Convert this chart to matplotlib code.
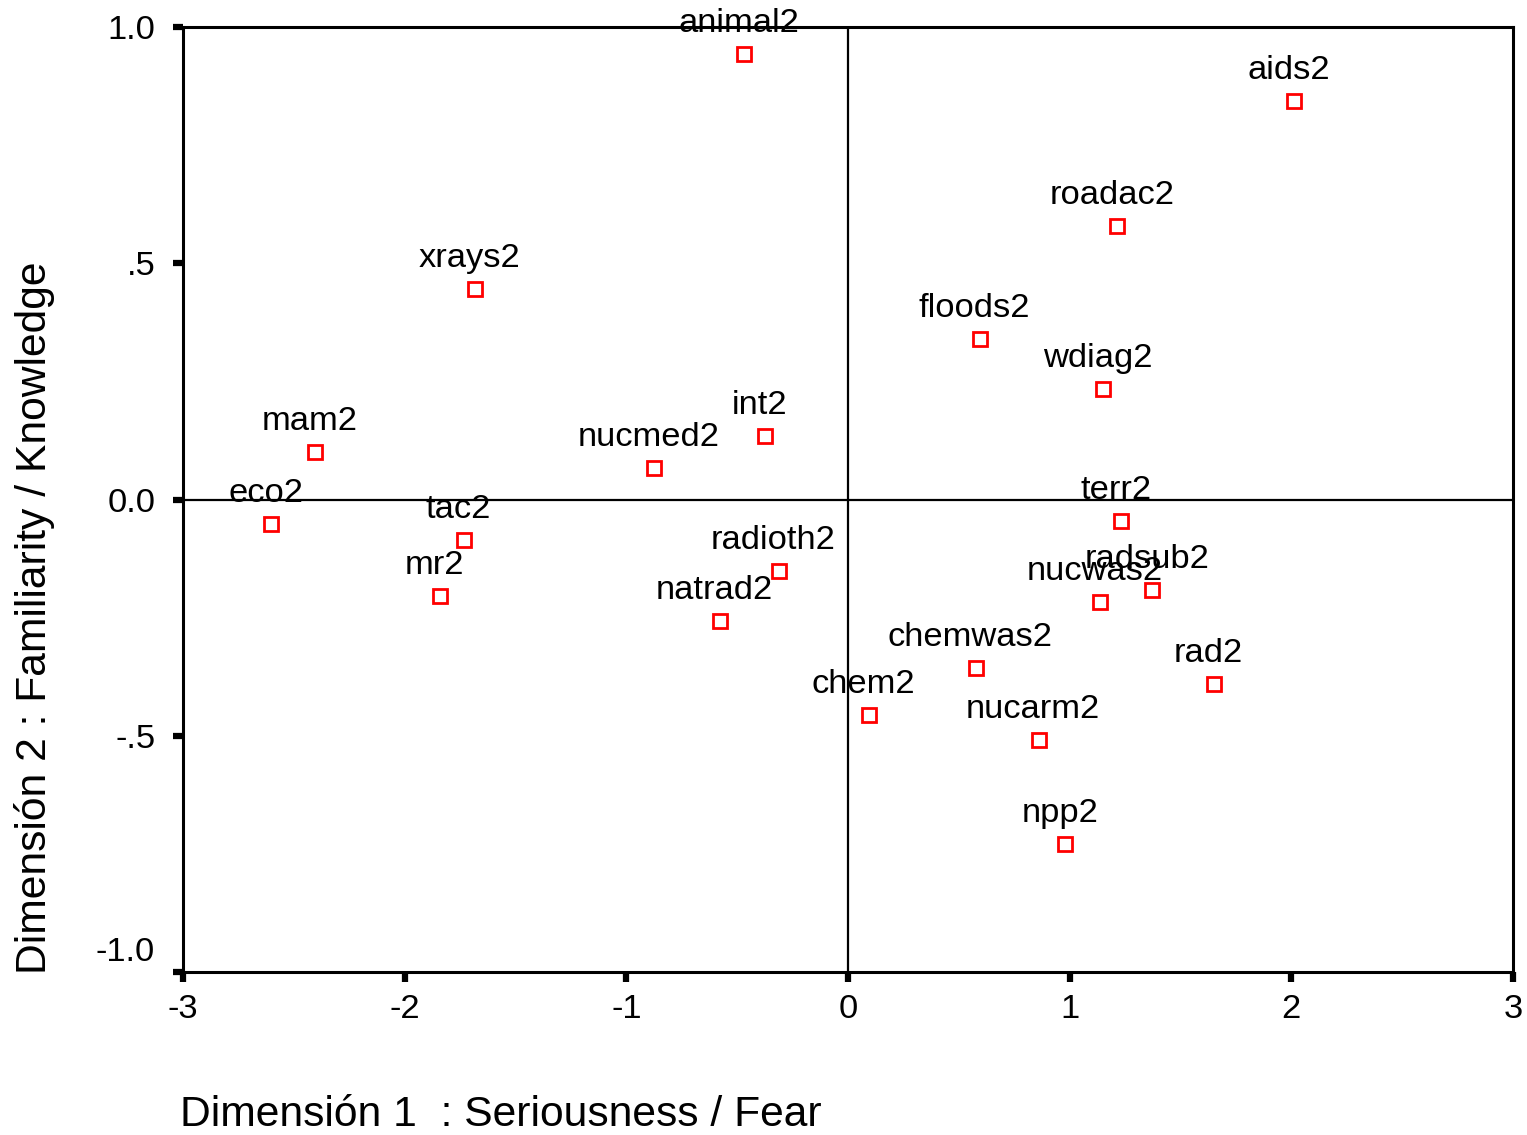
import matplotlib.pyplot as plt

plt.rcParams['font.family'] = ['Liberation Sans', 'DejaVu Sans']

# object scores
names = ['animal2', 'aids2', 'roadac2', 'xrays2', 'floods2', 'wdiag2', 'int2',
         'nucmed2', 'mam2', 'eco2', 'tac2', 'mr2', 'terr2', 'radioth2', 'radsub2',
         'nucwas2', 'natrad2', 'chemwas2', 'rad2', 'chem2', 'nucarm2', 'npp2']
dim1 = [-0.468, 2.012, 1.215, -1.683, 0.594, 1.152, -0.374,
        -0.873, -2.403, -2.601, -1.733, -1.841, 1.233, -0.311, 1.373,
        1.139, -0.576, 0.576, 1.652, 0.095, 0.860, 0.981]
dim2 = [0.943, 0.843, 0.579, 0.446, 0.340, 0.234, 0.134,
        0.067, 0.101, -0.052, -0.086, -0.204, -0.046, -0.151, -0.192,
        -0.217, -0.257, -0.357, -0.390, -0.456, -0.509, -0.729]

xticks = [-3, -2, -1, 0, 1, 2, 3]
yticks = [-1.0, -0.5, 0.0, 0.5, 1.0]
ytick_labels = ['', '-.5', '0.0', '.5', '1.0']

fig = plt.figure(figsize=(15.27, 11.35), dpi=100)
ax = fig.add_axes([0.1198, 0.1436, 0.8710, 0.8326])

ax.axhline(0, color='black', lw=1.6, zorder=1)
ax.axvline(0, color='black', lw=1.6, zorder=1)

ax.plot(dim1, dim2, ls='none', marker='s', ms=9.5, mfc='white', mec='red',
        mew=2.0, zorder=3)
for n, x, y in zip(names, dim1, dim2):
    ax.annotate(n, (x, y), xytext=(-4, 15.8), textcoords='offset points',
                ha='center', va='baseline', fontsize=24.8, zorder=4)

ax.set_xlim(-3, 3)
ax.set_ylim(-1, 1)
ax.set_xticks(xticks)
ax.set_xticklabels([str(t) for t in xticks])
ax.set_yticks(yticks)
ax.set_yticklabels(ytick_labels)
ax.tick_params(axis='both', direction='out', length=7, width=4.5,
               labelsize=24.8, color='black')
ax.tick_params(axis='y', pad=13)
ax.tick_params(axis='x', pad=9)
ax.annotate('-1.0', xy=(0, -1.0), xycoords=ax.get_yaxis_transform(),
            xytext=(-20, 13.7), textcoords='offset points',
            ha='right', va='center', fontsize=24.8)

for s in ax.spines.values():
    s.set_linewidth(2.2)

fig.text(180 / 1527, 1 - 1115 / 1135, 'Dimensión 1  : Seriousness / Fear',
         ha='left', va='center', fontsize=30.7)
fig.text(35 / 1527, 1 - 618 / 1135, 'Dimensión 2 : Familiarity / Knowledge',
         ha='center', va='center', rotation=90, fontsize=30.7)

fig.savefig('out.png', dpi=100)
